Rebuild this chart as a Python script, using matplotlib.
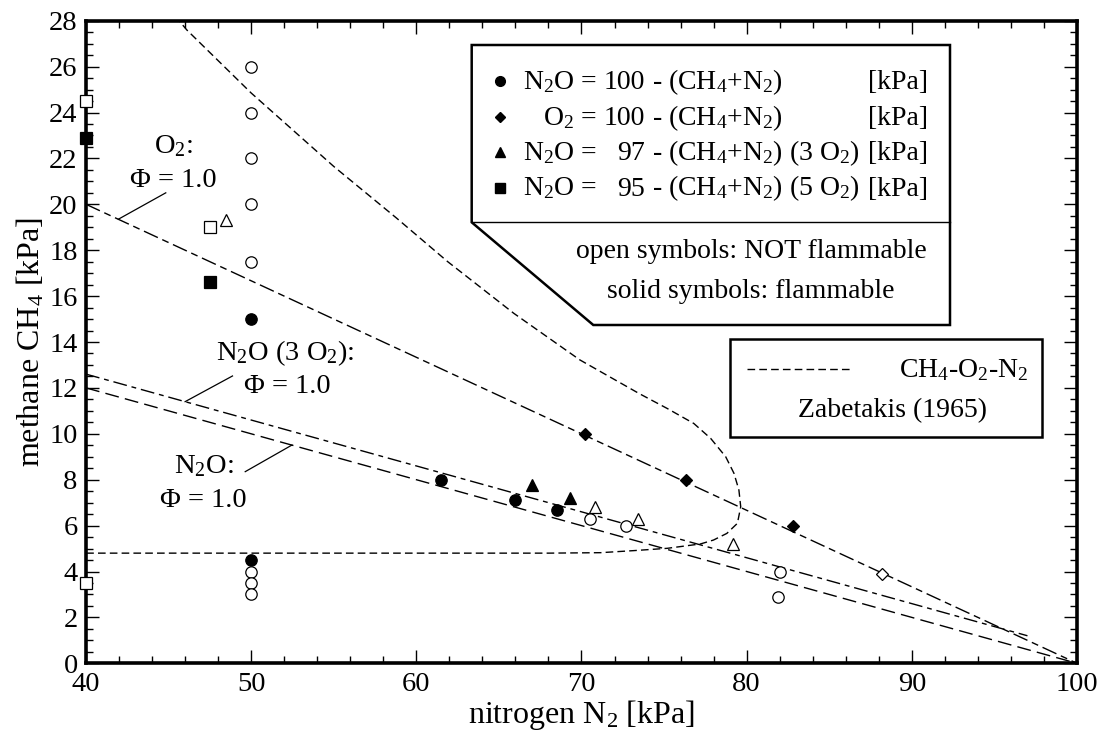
import matplotlib
matplotlib.use("Agg")
import matplotlib.pyplot as plt
import numpy as np
from matplotlib.lines import Line2D
from matplotlib.patches import Polygon, Rectangle

plt.rcParams['font.family'] = ['Liberation Serif', 'DejaVu Serif']
plt.rcParams['mathtext.fontset'] = 'custom'
plt.rcParams['mathtext.rm'] = 'Liberation Serif'
plt.rcParams['mathtext.default'] = 'regular'

# --- data (kPa) ---
# N2O = 100 - (CH4+N2)
n2o_fl_x = [50.0, 50.0, 61.5, 66.0, 68.5]
n2o_fl_y = [15.0, 4.5, 8.0, 7.1, 6.7]
n2o_nf_x = [50.0, 50.0, 50.0, 50.0, 50.0, 50.0, 50.0, 50.0, 70.5, 72.7, 82.0, 81.9]
n2o_nf_y = [26.0, 24.0, 22.0, 20.0, 17.5, 4.0, 3.5, 3.0, 6.3, 6.0, 4.0, 2.9]
# O2 = 100 - (CH4+N2)
o2_fl_x = [70.2, 76.3, 82.8]
o2_fl_y = [10.0, 8.0, 6.0]
o2_nf_x = [88.2]
o2_nf_y = [3.9]
# N2O = 97 - (CH4+N2) (3 O2)
n2o3_fl_x = [67.0, 69.3]
n2o3_fl_y = [7.75, 7.2]
n2o3_nf_x = [48.5, 70.8, 73.4, 79.2]
n2o3_nf_y = [19.3, 6.8, 6.3, 5.2]
# N2O = 95 - (CH4+N2) (5 O2)
n2o5_fl_x = [40.0, 47.5]
n2o5_fl_y = [22.9, 16.6]
n2o5_nf_x = [40.0, 47.5, 40.0]
n2o5_nf_y = [24.5, 19.0, 3.5]

# stoichiometric lines (phi = 1.0)
phi_o2_x, phi_o2_y = [40, 100], [20.0, 0.0]
phi_n2o_x, phi_n2o_y = [40, 100], [12.0, 0.0]
phi_n2o3_x, phi_n2o3_y = [40, 97], [12.6, 1.2]

# CH4-O2-N2 flammability limit, Zabetakis (1965)
zab_x = [45.4, 46.1, 50.0, 55.0, 58.8, 61.9, 65.9, 69.9, 73.5, 75.2,
         76.8, 77.82, 78.73, 79.23, 79.53, 79.64, 79.44, 78.8, 77.99, 77.2,
         75.19, 73.17, 71.15, 68.0, 60.0, 50.0, 40.0]
zab_y = [28.2, 27.6, 24.85, 21.65, 19.4, 17.5, 15.25, 13.22, 11.75, 11.1,
         10.45, 9.8, 9.0, 8.28, 7.55, 6.82, 6.1, 5.66, 5.37, 5.2,
         5.01, 4.91, 4.82, 4.8, 4.8, 4.8, 4.8]

W, H = 1106, 735
fig = plt.figure(figsize=(W / 100, H / 100), dpi=100)
ax = fig.add_axes([86 / W, 1 - 663.3 / H, (1077 - 86) / W, (663.3 - 20.7) / H])

def px(x, y):
    return (x / W, 1 - y / H)

ax.plot(zab_x, zab_y, color='k', lw=1.0, dashes=(5.5, 3.0))
ax.plot(phi_o2_x, phi_o2_y, color='k', lw=1.0, dashes=(11, 3.5, 5, 3.5))
ax.plot(phi_n2o3_x, phi_n2o3_y, color='k', lw=1.0, dashes=(10, 3.5, 3.5, 3.5))
ax.plot(phi_n2o_x, phi_n2o_y, color='k', lw=1.0, dashes=(10, 4.5))

mk = dict(ls='none', color='k', mec='k', mew=0.9, zorder=5, clip_on=False)
ax.plot(n2o_fl_x, n2o_fl_y, marker='o', ms=8.2, **mk)
ax.plot(n2o_nf_x, n2o_nf_y, marker='o', ms=8.2, mfc='white', **mk)
ax.plot(o2_fl_x, o2_fl_y, marker='D', ms=6.2, **mk)
ax.plot(o2_nf_x, o2_nf_y, marker='D', ms=6.2, mfc='white', **mk)
ax.plot(n2o3_fl_x, n2o3_fl_y, marker='^', ms=8.4, **mk)
ax.plot(n2o3_nf_x, n2o3_nf_y, marker='^', ms=8.4, mfc='white', **mk)
ax.plot(n2o5_fl_x, n2o5_fl_y, marker='s', ms=8.6, **mk)
ax.plot(n2o5_nf_x, n2o5_nf_y, marker='s', ms=8.2, mfc='white', **mk)

ax.set_xlim(40, 100)
ax.set_ylim(0, 28)
ax.set_xticks(np.arange(40, 101, 10))
ax.set_xticks(np.arange(40, 101, 2), minor=True)
ax.set_yticks(np.arange(0, 29, 2))
ax.set_yticks(np.arange(0, 28.1, 0.5), minor=True)
ax.tick_params(which='both', direction='in', top=True, right=True, width=1.0,
               labelsize=20.5)
ax.tick_params(which='major', length=9.4)
ax.tick_params(which='minor', length=5)
ax.tick_params(axis='x', pad=6)
ax.tick_params(axis='y', pad=6)
for s in ax.spines.values():
    s.set_linewidth(2.6)

ax.set_xlabel('nitrogen N$_2$ [kPa]', fontsize=23, labelpad=1)
ax.set_ylabel('methane CH$_4$ [kPa]', fontsize=23, labelpad=2)

# phi = 1.0 labels with leader lines
fs_a = 20.5
ax.text(45.27, 22.22, 'O$_2$:', fontsize=fs_a, ha='center', va='baseline')
ax.text(45.27, 20.77, '\u03a6 = 1.0', fontsize=fs_a, ha='center', va='baseline')
ax.plot([44.83, 41.96], [20.5, 19.35], color='k', lw=0.9)
ax.text(52.06, 13.22, 'N$_2$O (3 O$_2$):', fontsize=fs_a, ha='center', va='baseline')
ax.text(52.16, 11.76, '\u03a6 = 1.0', fontsize=fs_a, ha='center', va='baseline')
ax.plot([48.87, 46.0], [12.52, 11.4], color='k', lw=0.9)
ax.text(47.11, 8.28, 'N$_2$O:', fontsize=fs_a, ha='center', va='baseline')
ax.text(47.11, 6.82, '\u03a6 = 1.0', fontsize=fs_a, ha='center', va='baseline')
ax.plot([49.64, 52.47], [8.35, 9.51], color='k', lw=0.9)

# main legend box with chamfered corner
tf = fig.transFigure
box = Polygon([px(471.7, 45), px(950, 45), px(950, 325), px(593.3, 325),
               px(471.7, 222.3)], closed=True, transform=tf, fc='white',
              ec='k', lw=1.8, zorder=10)
fig.add_artist(box)
fig.add_artist(Line2D(*zip(px(471.7, 222.3), px(950, 222.3)), transform=tf,
                      color='k', lw=1.0, zorder=11))

fs_l = 20
rows = [('o', 7.0, 'N$_2$O =', '100', '- (CH$_4$+N$_2$)'),
        ('D', 5.0, 'O$_2$ =', '100', '- (CH$_4$+N$_2$)'),
        ('^', 7.0, 'N$_2$O =', '97', '- (CH$_4$+N$_2$) (3 O$_2$)'),
        ('s', 6.5, 'N$_2$O =', '95', '- (CH$_4$+N$_2$) (5 O$_2$)')]
for i, (m, ms, lhs, num, rhs) in enumerate(rows):
    yb = 89.3 + i * 35.4
    fig.add_artist(Line2D([px(500, 0)[0]], [px(0, yb - 8)[1]], marker=m, ms=ms,
                          color='k', ls='none', transform=tf, zorder=12))
    fig.text(*px(597, yb), lhs, fontsize=fs_l, ha='right', va='baseline', zorder=12)
    fig.text(*px(645, yb), num, fontsize=fs_l, ha='right', va='baseline', zorder=12)
    fig.text(*px(652, yb), rhs, fontsize=fs_l, ha='left', va='baseline', zorder=12)
    fig.text(*px(928, yb), '[kPa]', fontsize=fs_l, ha='right', va='baseline', zorder=12)
fig.text(*px(751, 258), 'open symbols: NOT flammable', fontsize=fs_l,
         ha='center', va='baseline', zorder=12)
fig.text(*px(751, 298), 'solid symbols: flammable', fontsize=fs_l,
         ha='center', va='baseline', zorder=12)

# Zabetakis legend box
x0, y0, x1, y1 = 730, 339, 1041.7, 436.7
fig.add_artist(Rectangle(px(x0, y1), (x1 - x0) / W, (y1 - y0) / H, transform=tf,
                         fc='white', ec='k', lw=1.8, zorder=10))
fig.add_artist(Line2D(*zip(px(746.7, 369.3), px(850, 369.3)), transform=tf,
                      color='k', lw=1.0, dashes=(5.5, 3.0), zorder=11))
fig.text(*px(1028, 377), 'CH$_4$-O$_2$-N$_2$', fontsize=fs_l, ha='right',
         va='baseline', zorder=12)
fig.text(*px(893, 416.7), 'Zabetakis (1965)', fontsize=fs_l, ha='center',
         va='baseline', zorder=12)

fig.savefig('out.png', dpi=100, facecolor='white')
